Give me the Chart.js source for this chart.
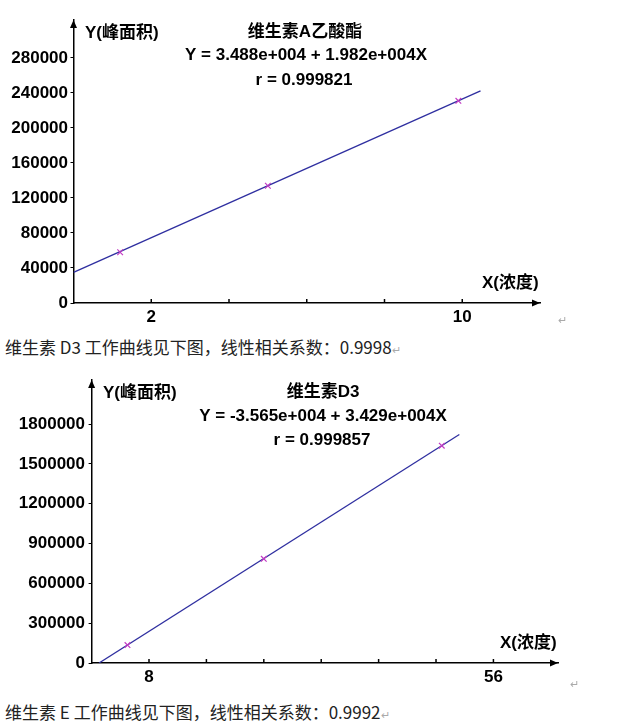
<!DOCTYPE html>
<html>
<head>
<meta charset="utf-8">
<script src="https://cdn.jsdelivr.net/npm/chart.js@4.4.1/dist/chart.umd.min.js"></script>
<style>
body { margin: 0; background: #fff; width: 634px; height: 724px; position: relative; overflow: hidden; }
.box { position: absolute; left: 0; width: 634px; height: 330px; }
.note { position: absolute; left: 5px; font: 17px "Noto Sans CJK SC", sans-serif; color: #222; white-space: nowrap; line-height: 20px; }
.ret { color: #aaa; font-size: 11px; }
</style>
</head>
<body>
<div class="box" style="top:0"><canvas id="chartA"></canvas></div>
<div class="note" style="top:337px">维生素 D3 工作曲线见下图，线性相关系数：0.9998<span class="ret">↵</span></div>
<div class="box" style="top:360px"><canvas id="chartD3"></canvas></div>
<div class="note" style="top:702px">维生素 E 工作曲线见下图，线性相关系数：0.9992<span class="ret">↵</span></div>
<span class="ret" style="position:absolute;left:558px;top:314px">↵</span>
<span class="ret" style="position:absolute;left:570px;top:678px">↵</span>
<script>
// 维生素A乙酸酯
const vaConc = [1.2, 5, 9.9];
const vaArea = [58000, 134000, 231000];
const vaFitConc = [0, 10.47];
const vaFitArea = [34900, 242400];
const vaXTicks = [0, 2, 4, 6, 8, 10, 12];
const vaXLabels = [2, 10];
const vaYTicks = [0, 40000, 80000, 120000, 160000, 200000, 240000, 280000];

// 维生素D3
const d3Conc = [5, 24, 48.8];
const d3Area = [135000, 785000, 1638000];
const d3FitConc = [1.04, 51.25];
const d3FitArea = [0, 1722000];
const d3XTicks = [0, 8, 16, 24, 32, 40, 48, 56, 64];
const d3XLabels = [8, 56];
const d3YTicks = [0, 300000, 600000, 900000, 1200000, 1500000, 1800000];

const boldFont = '"Liberation Sans", "Noto Sans CJK SC", sans-serif';

function pts(xs, ys) {
    return xs.map((x, i) => ({ x: x, y: ys[i] }));
}

// arrow heads, upward x ticks and the text blocks
const decor = {
    id: 'decor',
    afterDraw(chart, args, opts) {
        const ctx = chart.ctx;
        const a = chart.chartArea;
        const xs = chart.scales.x;
        ctx.save();
        ctx.strokeStyle = '#000';
        ctx.fillStyle = '#000';
        ctx.lineWidth = 1.5;
        xs.ticks.forEach(t => {
            const px = xs.getPixelForValue(t.value);
            if (t.value <= xs.min || px > a.right - 10) return;
            ctx.beginPath();
            ctx.moveTo(px, a.bottom);
            ctx.lineTo(px, a.bottom - 4);
            ctx.stroke();
        });
        ctx.beginPath();
        ctx.moveTo(a.right, a.bottom);
        ctx.lineTo(a.right - 8, a.bottom - 3.5);
        ctx.lineTo(a.right - 8, a.bottom + 3.5);
        ctx.closePath();
        ctx.fill();
        ctx.beginPath();
        ctx.moveTo(a.left, a.top);
        ctx.lineTo(a.left - 3.5, a.top + 8);
        ctx.lineTo(a.left + 3.5, a.top + 8);
        ctx.closePath();
        ctx.fill();
        ctx.textBaseline = 'middle';
        opts.texts.forEach(t => {
            ctx.font = 'bold ' + t.size + 'px ' + boldFont;
            ctx.textAlign = t.align || 'center';
            ctx.fillText(t.text, t.x, t.y);
        });
        ctx.restore();
    }
};

function makeChart(id, cfg) {
    const tickFont = { family: boldFont, size: 17, weight: 'bold' };
    return new Chart(document.getElementById(id), {
        type: 'scatter',
        data: {
            datasets: [
                {
                    data: pts(cfg.x, cfg.y),
                    pointStyle: 'crossRot',
                    pointRadius: 4,
                    borderColor: '#c43cc4',
                    borderWidth: 1.2
                },
                {
                    data: pts(cfg.fitX, cfg.fitY),
                    showLine: true,
                    borderColor: '#2f2fa0',
                    borderWidth: 1.3,
                    pointRadius: 0
                }
            ]
        },
        options: {
            animation: false,
            responsive: true,
            maintainAspectRatio: false,
            layout: { padding: { top: 20, right: cfg.padRight, left: 0, bottom: 0 } },
            plugins: {
                legend: { display: false },
                tooltip: { enabled: false },
                decor: { texts: cfg.texts }
            },
            scales: {
                x: {
                    type: 'linear',
                    min: 0,
                    max: cfg.xMax,
                    grid: { display: false, drawTicks: false },
                    border: { display: true, color: '#000', width: 1.5 },
                    ticks: {
                        autoSkip: false,
                        maxRotation: 0,
                        color: '#000',
                        font: tickFont,
                        padding: 4,
                        callback: v => cfg.xLabels.includes(v) ? String(v) : ''
                    },
                    afterBuildTicks: s => { s.ticks = cfg.xTicks.map(v => ({ value: v })); },
                    afterFit: s => { s.height = 27; }
                },
                y: {
                    min: 0,
                    max: cfg.yMax,
                    grid: { drawOnChartArea: false, drawTicks: true, tickLength: 3, color: '#000' },
                    border: { display: true, color: '#000', width: 1.5 },
                    ticks: {
                        autoSkip: false,
                        color: '#000',
                        font: tickFont,
                        padding: cfg.yPad,
                        callback: v => String(v)
                    },
                    afterBuildTicks: s => { s.ticks = cfg.yTicks.map(v => ({ value: v })); },
                    afterFit: s => { s.width = cfg.yWidth; }
                }
            }
        },
        plugins: [decor]
    });
}

makeChart('chartA', {
    x: vaConc, y: vaArea, fitX: vaFitConc, fitY: vaFitArea,
    xTicks: vaXTicks, xLabels: vaXLabels, yTicks: vaYTicks,
    xMax: 12, yMax: 323400,
    yWidth: 73.5, yPad: 2.5, padRight: 94,
    texts: [
        { text: 'Y(峰面积)', x: 85, y: 33, size: 17, align: 'left' },
        { text: '维生素A乙酸酯', x: 305, y: 32, size: 17 },
        { text: 'Y = 3.488e+004 + 1.982e+004X', x: 306, y: 55, size: 17 },
        { text: 'r = 0.999821', x: 304, y: 80, size: 17 },
        { text: 'X(浓度)', x: 482, y: 283, size: 17, align: 'left' }
    ]
});

makeChart('chartD3', {
    x: d3Conc, y: d3Area, fitX: d3FitConc, fitY: d3FitArea,
    xTicks: d3XTicks, xLabels: d3XLabels, yTicks: d3YTicks,
    xMax: 65, yMax: 2133000,
    yWidth: 91.6, yPad: 3.6, padRight: 76,
    texts: [
        { text: 'Y(峰面积)', x: 103, y: 33, size: 17, align: 'left' },
        { text: '维生素D3', x: 323, y: 32, size: 17 },
        { text: 'Y = -3.565e+004 + 3.429e+004X', x: 323, y: 56, size: 17 },
        { text: 'r = 0.999857', x: 322, y: 80, size: 17 },
        { text: 'X(浓度)', x: 500, y: 283, size: 17, align: 'left' }
    ]
});
</script>
</body>
</html>
